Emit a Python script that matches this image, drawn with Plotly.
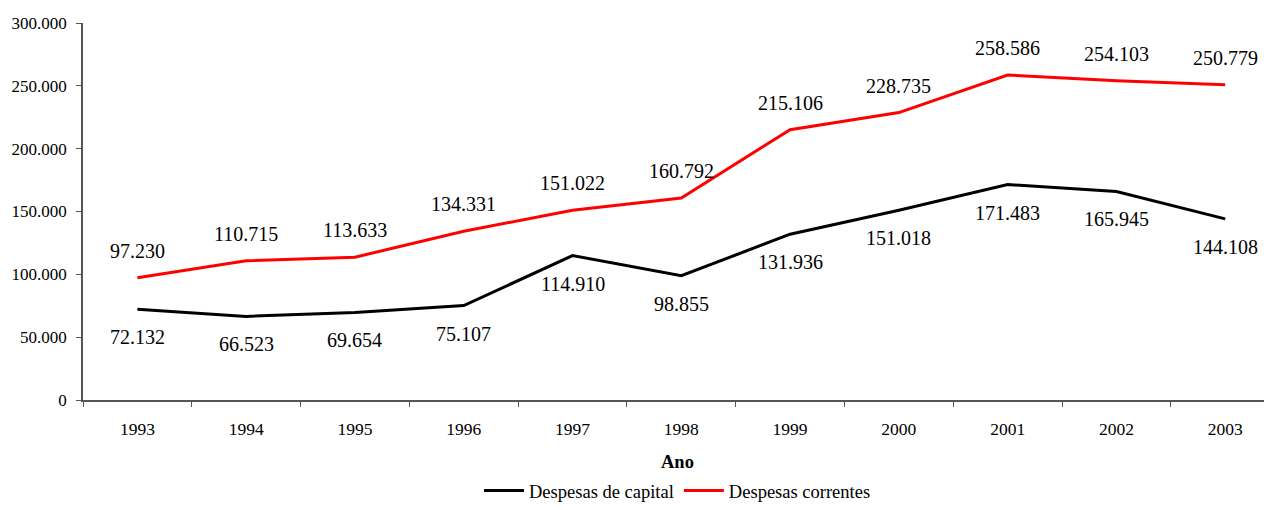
import plotly.graph_objects as go

anos = ["1993", "1994", "1995", "1996", "1997", "1998", "1999", "2000", "2001", "2002", "2003"]
despesas_capital = [72132, 66523, 69654, 75107, 114910, 98855, 131936, 151018, 171483, 165945, 144108]
despesas_correntes = [97230, 110715, 113633, 134331, 151022, 160792, 215106, 228735, 258586, 254103, 250779]
y_ticks = [0, 50000, 100000, 150000, 200000, 250000, 300000]
x_titulo = "Ano"

FONT = "Liberation Serif"

def fmt(v):
    return f"{v:,}".replace(",", ".")

fig = go.Figure()
fig.add_trace(go.Scatter(x=anos, y=despesas_capital, mode="lines", name="Despesas de capital",
                         line=dict(color="black", width=3)))
fig.add_trace(go.Scatter(x=anos, y=despesas_correntes, mode="lines", name="Despesas correntes",
                         line=dict(color="#ff0000", width=3)))

# category axis: annotations use the category serial number
for i, v in enumerate(despesas_capital):
    fig.add_annotation(x=i, y=v, xref="x", yref="y", text=fmt(v), showarrow=False, yshift=-28,
                       font=dict(family=FONT, size=20, color="black"))
for i, v in enumerate(despesas_correntes):
    fig.add_annotation(x=i, y=v, xref="x", yref="y", text=fmt(v), showarrow=False, yshift=27,
                       font=dict(family=FONT, size=20, color="black"))

# x-axis title
fig.add_annotation(x=0.5, y=-0.1645, xref="paper", yref="paper", text=f"<b>{x_titulo}</b>",
                   showarrow=False, xanchor="center", yanchor="middle",
                   font=dict(family=FONT, size=18.5, color="black"))

fig.update_layout(
    width=1264, height=502,
    margin=dict(l=75, r=0, t=15, b=110),
    paper_bgcolor="white", plot_bgcolor="white",
    separators=",.",
    font=dict(family=FONT, size=17, color="black"),
    showlegend=True,
    legend=dict(orientation="h", x=0.5, xanchor="center", xref="paper",
                yref="container", y=-0.015, yanchor="bottom",
                font=dict(family=FONT, size=18.5), itemwidth=40, tracegroupgap=0),
    xaxis=dict(
        type="category", range=[-0.5, 10.43], tickson="boundaries", automargin=False,
        showline=True, linecolor="#555555", linewidth=1.5,
        ticks="outside", ticklen=5, tickcolor="#555555",
        ticklabelstandoff=12,
        showgrid=False, zeroline=False,
        tickfont=dict(family=FONT, size=17.5),
    ),
    yaxis=dict(
        range=[0, 300000], tickvals=y_ticks, tickformat=",d", automargin=False,
        showline=True, linecolor="#555555", linewidth=1.5,
        ticks="outside", ticklen=5, tickcolor="#555555",
        ticklabelstandoff=6,
        showgrid=False, zeroline=False,
        tickfont=dict(family=FONT, size=17),
    ),
)

fig.write_html("out.html")
